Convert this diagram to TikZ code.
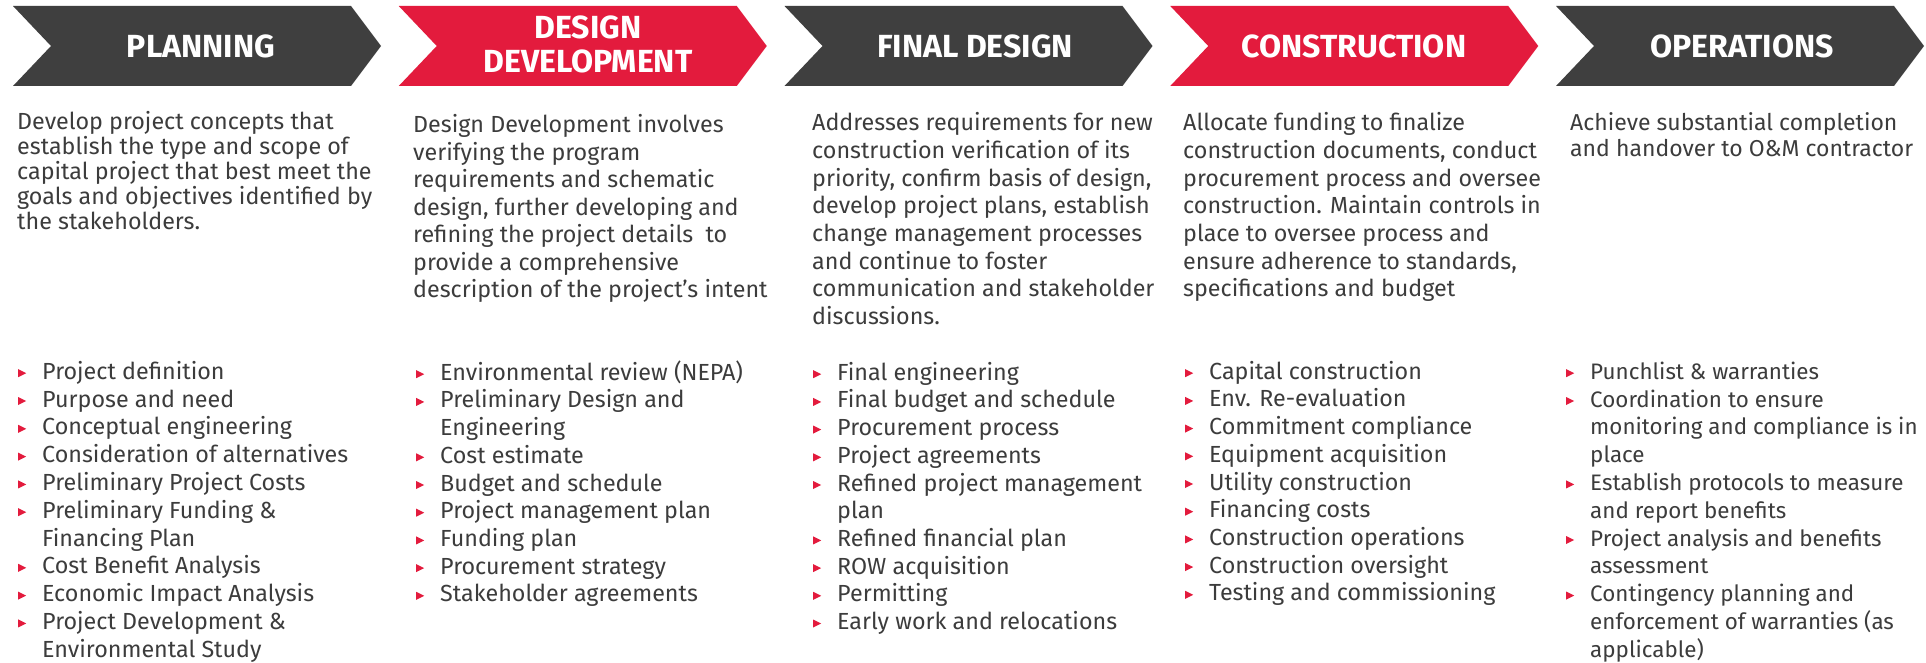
\documentclass[tikz,border=0pt]{standalone}
\usepackage{fontspec}
\setmainfont{Fira Sans}
\definecolor{dgray}{HTML}{3F3F3F}
\definecolor{brand}{HTML}{E31B3D}
\definecolor{txt}{HTML}{3C3C3C}
\newcommand{\tri}{\tikz[baseline=0pt]\fill[brand] (0pt,2pt) -- (0pt,10pt) -- (8pt,6pt) -- cycle;}
\newcommand{\bi}{\makebox[24pt][l]{\tri}}
\newcommand{\ci}{\hspace*{24pt}}
\newcommand{\fst}{\rule{0pt}{20pt}}
\tikzset{
  title/.style={text=white, font=\bfseries\fontsize{32}{34}\selectfont, align=center, inner sep=0pt},
  desc/.style={anchor=north west, inner sep=0pt, align=left, text=txt, font=\fontsize{23.3}{27.7}\selectfont},
  chevron/.style={fill=#1}
}
\begin{document}
\begin{tikzpicture}[x=1pt,y=-1pt]
\useasboundingbox[fill=white] (0,0) rectangle (1926,663);
% chevrons
\foreach \i/\c in {0/dgray,1/brand,2/dgray,3/brand,4/dgray}{
  \pgfmathsetmacro\L{13+385.75*\i}
  \path[chevron=\c] (\L,6) -- ++(338,0) -- ++(30,40) -- ++(-30,40) -- ++(-338,0) -- ++(38,-40) -- cycle;
}
\node[title] (t1) at (201,46) {PLANNING};
\node[title] (t2) at (588,44) {DESIGN\\DEVELOPMENT};
\node[title] (t3) at (975,46) {FINAL DESIGN};
\node[title] (t4) at (1354,46) {CONSTRUCTION};
\node[title] (t5) at (1742,46) {OPERATIONS};
% descriptions
\node[desc, font=\fontsize{23.3}{25}\selectfont] (d1) at (17,109.5) {\fst Develop project concepts that\\establish the type and scope of\\capital project that best meet the\\goals and objectives identified by\\the stakeholders.};
\node[desc, font=\fontsize{23.3}{27.5}\selectfont] (d2) at (413,112.5) {\fst Design Development involves\\verifying the program\\requirements and schematic\\design, further developing and\\refining the project details~ to\\provide a comprehensive\\description of the project’s intent};
\node[desc] (d3) at (812,110.5) {\fst Addresses requirements for new\\construction verification of its\\priority, confirm basis of design,\\develop project plans, establish\\change management processes\\and continue to foster\\communication and stakeholder\\discussions.};
\node[desc] (d4) at (1183,110.5) {\fst Allocate funding to finalize\\construction documents, conduct\\procurement process and oversee\\construction. Maintain controls in\\place to oversee process and\\ensure adherence to standards,\\specifications and budget};
\node[desc, font=\fontsize{23}{26}\selectfont] (d5) at (1570,110) {\fst Achieve substantial completion\\and handover to O\&M contractor};
% bullet lists
\node[desc, font=\fontsize{23.3}{27.8}\selectfont] (b1) at (18,359) {\fst\bi Project definition\\\bi Purpose and need\\\bi Conceptual engineering\\\bi Consideration of alternatives\\\bi Preliminary Project Costs\\\bi Preliminary Funding \&\\\ci Financing Plan\\\bi Cost Benefit Analysis\\\bi Economic Impact Analysis\\\bi Project Development \&\\\ci Environmental Study};
\node[desc] (b2) at (416,360) {\fst\bi Environmental review (NEPA)\\\bi Preliminary Design and\\\ci Engineering\\\bi Cost estimate\\\bi Budget and schedule\\\bi Project management plan\\\bi Funding plan\\\bi Procurement strategy\\\bi Stakeholder agreements};
\node[desc] (b3) at (813,360) {\fst\bi Final engineering\\\bi Final budget and schedule\\\bi Procurement process\\\bi Project agreements\\\bi Refined project management\\\ci plan\\\bi Refined financial plan\\\bi ROW acquisition\\\bi Permitting\\\bi Early work and relocations};
\node[desc] (b4) at (1185,359) {\fst\bi Capital construction\\\bi Env. Re-evaluation\\\bi Commitment compliance\\\bi Equipment acquisition\\\bi Utility construction\\\bi Financing costs\\\bi Construction operations\\\bi Construction oversight\\\bi Testing and commissioning};
\node[desc, font=\fontsize{22.4}{27.8}\selectfont] (b5) at (1566,359) {\fst\bi Punchlist \& warranties\\\bi Coordination to ensure\\\ci monitoring and compliance is in\\\ci place\\\bi Establish protocols to measure\\\ci and report benefits\\\bi Project analysis and benefits\\\ci assessment\\\bi Contingency planning and\\\ci enforcement of warranties (as\\\ci applicable)};
\end{tikzpicture}
\end{document}
